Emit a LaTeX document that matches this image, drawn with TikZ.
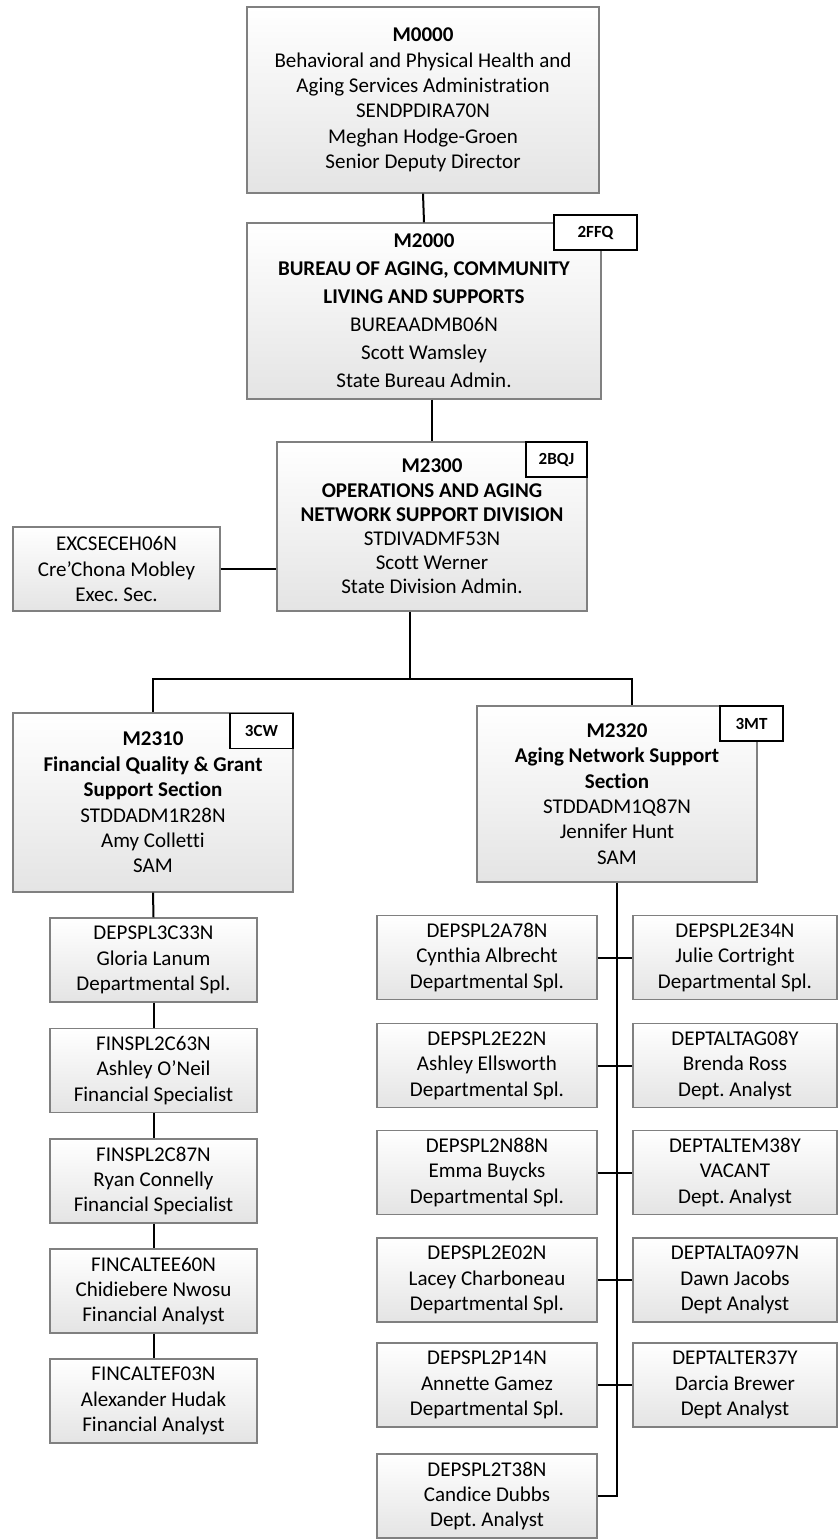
\documentclass[tikz,border=0pt]{standalone}
\usepackage{fontspec}
\setmainfont{Carlito}[Ligatures=NoCommon]
\usepackage{xcolor}
\usepackage{tikz}
\usetikzlibrary{calc}
\definecolor{boxgray}{RGB}{128,128,128}
\definecolor{boxshade}{RGB}{228,228,228}
\frenchspacing

\begin{document}
\begin{tikzpicture}[x=0.5pt,y=-0.5pt,
  unitbox/.style={draw=boxgray,line width=0.7pt,top color=white,bottom color=boxshade,
    align=center,inner sep=0pt,font=\fontsize{10.5}{12.7}\selectfont},
  posbox/.style={unitbox,minimum width=103.5pt,minimum height=42pt},
  tagbox/.style={draw=black,line width=0.9pt,fill=white,inner sep=0pt,
    minimum height=17.5pt,font=\fontsize{8.5}{10}\selectfont\bfseries},
  link/.style={line width=1pt}]
  \useasboundingbox (0,0) rectangle (838,1540);

  % top of the chart
  \node[unitbox,minimum width=176pt,minimum height=93pt] (m0000) at (423,100)
    {\textbf{M0000}\\Behavioral and Physical Health and\\Aging Services Administration\\
     SENDPDIRA70N\\Meghan Hodge-Groen\\Senior Deputy Director};
  \node[unitbox,minimum width=177pt,minimum height=88pt,
        font=\fontsize{10.5}{14}\selectfont] (m2000) at (424,311)
    {\textbf{M2000}\\\textbf{BUREAU OF AGING, COMMUNITY}\\\textbf{LIVING AND SUPPORTS}\\
     BUREAADMB06N\\Scott Wamsley\\State Bureau Admin.};
  \node[unitbox,minimum width=155pt,minimum height=84.5pt,
        font=\fontsize{10.5}{12.1}\selectfont] (m2300) at (432,526.5)
    {\textbf{M2300}\\\textbf{OPERATIONS AND AGING}\\\textbf{NETWORK SUPPORT DIVISION}\\
     STDIVADMF53N\\Scott Werner\\State Division Admin.};
  \node[posbox] (exc) at (116.5,569)
    {EXCSECEH06N\\Cre’Chona Mobley\\Exec. Sec.};

  % sections
  \node[unitbox,minimum width=140pt,minimum height=89.5pt] (m2310) at (153,802.5)
    {\textbf{M2310}\\\textbf{Financial Quality \& Grant}\\\textbf{Support Section}\\
     STDDADM1R28N\\Amy Colletti\\SAM};
  \node[unitbox,minimum width=140pt,minimum height=88pt] (m2320) at (617,794)
    {\textbf{M2320}\\\textbf{Aging Network Support}\\\textbf{Section}\\
     STDDADM1Q87N\\Jennifer Hunt\\SAM};

  % staff under M2310
  \foreach \i/\y/\code/\who/\job in {
      1/960/DEPSPL3C33N/Gloria Lanum/Departmental Spl.,
      2/1070.5/FINSPL2C63N/Ashley O’Neil/Financial Specialist,
      3/1181/FINSPL2C87N/Ryan Connelly/Financial Specialist,
      4/1291/FINCALTEE60N/Chidiebere Nwosu/Financial Analyst,
      5/1401/FINCALTEF03N/Alexander Hudak/Financial Analyst}
    \node[posbox] (l\i) at (153.5,\y) {\code\\\who\\\job};

  % staff under M2320
  \foreach \i/\y/\code/\who/\job in {
      1/957.5/DEPSPL2A78N/Cynthia Albrecht/Departmental Spl.,
      2/1065.5/DEPSPL2E22N/Ashley Ellsworth/Departmental Spl.,
      3/1172.5/DEPSPL2N88N/Emma Buycks/Departmental Spl.,
      4/1280/DEPSPL2E02N/Lacey Charboneau/Departmental Spl.,
      5/1385/DEPSPL2P14N/Annette Gamez/Departmental Spl.,
      6/1496/DEPSPL2T38N/Candice Dubbs/Dept. Analyst}
    \node[posbox,minimum width=110pt] (a\i) at (487,\y) {\code\\\who\\\job};
  \foreach \i/\y/\code/\who/\job in {
      1/957.5/DEPSPL2E34N/Julie Cortright/Departmental Spl.,
      2/1065.5/DEPTALTAG08Y/Brenda Ross/Dept. Analyst,
      3/1172.5/DEPTALTEM38Y/VACANT/Dept. Analyst,
      4/1280/DEPTALTA097N/Dawn Jacobs/Dept Analyst,
      5/1385/DEPTALTER37Y/Darcia Brewer/Dept Analyst}
    \node[posbox,minimum width=102pt] (b\i) at (735,\y) {\code\\\who\\\job};

  % connectors
  \draw[link] (m0000.south) -- (m2000.north);
  \draw[link] (m2000.south -| m2300.north) -- (m2300.north);
  \draw[link] (exc.east) -- (exc.east -| m2300.west);
  \coordinate (bar) at (410,679);
  \draw[link] ([xshift=-11pt]m2300.south) -- (bar);
  \draw[link] (m2310.north) |- (bar) -| ([xshift=7.5pt]m2320.north);
  \draw[link] (m2310.south) -- (l1.north);
  \foreach \i/\j in {1/2,2/3,3/4,4/5}
    \draw[link] (l\i.south) -- (l\j.north);
  \draw[link] (m2320.south) -- (m2320.south |- a6.east) -- (a6.east);
  \foreach \i in {1,...,5}
    \draw[link] (a\i.east) -- (b\i.west);

  % position tags
  \node[tagbox,minimum width=41.5pt] (t2000) at (595.5,232.5) {2FFQ};
  \node[tagbox,minimum width=30.5pt] (t2300) at (556.5,459.5) {2BQJ};
  \node[tagbox,minimum width=31.5pt] (t2310) at (261.5,731) {3CW};
  \node[tagbox,minimum width=31.5pt] (t2320) at (751.5,723.5) {3MT};
\end{tikzpicture}
\end{document}
